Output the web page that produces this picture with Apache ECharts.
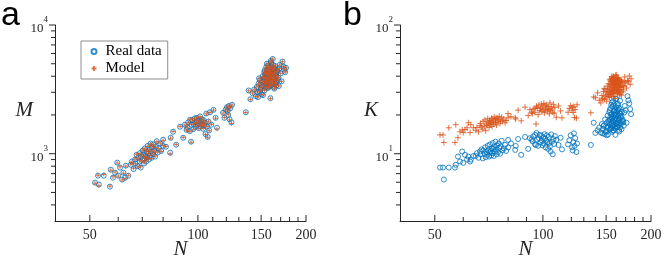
<!DOCTYPE html>
<html><head><meta charset="utf-8">
<script src="https://cdn.jsdelivr.net/npm/echarts@6/dist/echarts.min.js"></script>
<style>html,body{margin:0;padding:0;background:#fff}#c{width:664px;height:260px}</style>
</head><body><div id="c"></div>
<script>
// Network size N
const N = [
 51.7,52.7,53.0,54.7,56.9,57.2,58.8,59.6,58.0,61.5,60.0,62.0,60.7,63.0,62.7,64.0,
 65.0,65.5,66.2,66.8,67.0,67.5,68.0,68.2,68.8,69.0,69.3,69.6,70.0,70.2,70.5,70.8,71.0,71.2,71.5,71.8,
 72.0,72.2,72.5,72.7,73.0,73.2,73.5,73.8,74.0,74.3,74.6,75.0,75.3,75.6,76.0,76.3,76.8,77.2,77.8,78.5,79.0,80.0,
 80.0,83.7,85.3,84.0,89.2,91.0,93.0,95.1,95.7,87.0,81.5,92.0,
 93.5,94.0,95.0,96.0,96.5,97.0,97.5,98.0,98.5,99.0,99.3,99.8,100.2,100.6,101.0,101.4,101.8,102.2,102.6,103.0,
 103.4,103.8,104.2,104.6,105.0,105.5,106.0,106.5,107.0,107.5,108.0,109.0,110.5,112.0,113.0,
 117.5,118.5,119.5,120.5,121.0,121.5,122.0,122.5,123.0,124.0,124.5,136.0,138.5,
 140.0,142.0,143.5,145.0,146.0,147.0,147.5,148.5,149.0,150.0,150.5,151.0,151.5,152.0,152.5,153.0,153.3,153.6,154.0,154.3,
 154.6,155.0,155.2,155.5,155.8,156.0,156.2,156.5,156.8,157.0,157.2,157.5,157.8,158.0,158.2,158.5,158.8,159.0,159.2,159.5,
 159.8,160.0,160.3,160.6,161.0,161.3,161.6,162.0,162.3,162.6,163.0,163.5,164.0,164.5,165.0,165.5,166.0,167.0,168.0,169.0,
 170.0,171.0,172.0,173.0,174.0,175.0,176.0,
 152.8,153.8,154.4,154.9,155.4,155.9,156.4,156.9,157.4,157.9,158.4,158.9,159.4,159.9,160.4,160.9,161.4,161.9,162.4,162.9,
 163.4,163.9,164.4,164.9,165.4,166.5,167.5,168.5,153.5,155.6,157.6,159.6,161.8,164.0,150.8,149.6,148.0,146.5,151.8,163.2
];
// Number of links M: real data
const M_real = [
 596,675,575,675,555,751,712,852,651,629,675,712,779,807,651,675,
 820,870,760,900,840,980,800,930,870,1010,780,950,890,1060,990,840,920,1100,960,870,
 1030,940,1150,1000,900,1080,960,1200,1040,930,1120,990,1180,1060,950,1130,1250,1020,1100,1200,1050,1150,
 1284,1018,1480,1330,1620,1330,1530,1835,1240,1175,1133,1680,
 1600,1750,1500,1680,1820,1550,1700,1880,1620,1760,1900,1680,1800,1580,1720,1950,1640,1780,1850,1700,
 1560,1820,1660,1740,1420,2050,1620,1350,1780,1520,2100,1680,2190,1900,1590,
 2080,1900,2200,2300,2150,2000,2350,1850,2250,1750,2400,2100,3100,
 2650,2950,3150,2800,3300,2750,3500,3050,3700,3250,2900,3600,4000,3350,3800,4300,3100,3550,4100,3900,
 3450,4700,3700,4200,3250,3950,4500,3600,4050,4850,3800,3400,4350,3750,4150,3550,4600,3900,2700,4250,
 3650,5100,4000,3450,4400,3800,5450,4100,3600,4650,3850,4300,3500,4050,3700,3400,4450,3750,3350,4900,
 4200,3650,5200,4750,4500,4300,4650,
 3650,3900,3300,4250,3550,4400,3850,3250,4150,3600,4450,3350,3950,4700,3700,4200,3500,4550,3950,3300,
 4600,3800,4250,3600,4000,4350,3900,4600,4450,5000,4700,5250,4900,4800,3400,3150,3850,3000,2850,3200
];
// Number of links M: model
const M_model = [
 590,680,565,690,560,745,720,845,660,625,670,705,790,800,640,680,
 830,860,770,910,835,990,790,925,880,1000,790,960,880,1070,980,850,930,1090,950,880,
 1040,930,1140,1010,910,1070,970,1190,1050,920,1130,1000,1170,1050,960,1120,1240,1030,1090,1210,1040,1160,
 1270,1000,1490,1320,1630,1340,1520,1850,1230,1180,1140,1670,
 1610,1740,1490,1690,1830,1540,1710,1870,1630,1750,1910,1670,1810,1570,1730,1940,1650,1770,1860,1690,
 1570,1810,1670,1730,1410,2040,1630,1340,1790,1510,2090,1690,2180,1890,1560,
 2070,1910,2190,2310,2140,2010,2340,1830,2260,1720,2390,2090,3080,
 2640,2960,3140,2790,3310,2760,3490,3060,3690,3260,2890,3610,3990,3340,3810,4290,3110,3540,4110,3890,
 3460,4690,3710,4190,3260,3940,4510,3590,4060,4840,3810,3390,4360,3740,4160,3560,4590,3910,2690,4260,
 3640,5090,4010,3440,4410,3790,5440,4110,3590,4660,3860,4290,3510,4040,3710,3390,4460,3740,3360,4890,
 4210,3640,5190,4760,4490,4310,4640,
 3660,3890,3310,4240,3560,4390,3860,3240,4160,3590,4440,3360,3940,4690,3710,4190,3510,4560,3940,3310,
 4590,3810,4240,3590,4010,4340,3910,4590,4460,4990,4690,5240,4890,4790,3410,3140,3860,3010,2860,3190
];
// K: real data
const K_real = [
 7.8,7.8,6.3,7.8,7.8,8.2,8.7,10.4,9.5,9.0,8.5,9.5,9.8,9.0,8.7,9.6,
 9.6,10.1,9.3,10.4,9.9,10.8,9.2,10.6,10.0,11.2,9.4,10.3,9.8,11.5,10.7,9.5,10.2,11.8,10.5,9.7,
 11.0,10.1,12.1,10.9,9.6,11.3,10.4,12.4,10.8,9.9,11.6,10.3,12.0,11.1,10.0,11.4,12.6,10.6,11.0,11.7,10.5,11.2,
 12.8,10.7,13.0,11.5,13.5,10.9,12.9,14.0,11.7,9.8,12.0,13.2,
 12.5,13.6,11.8,14.5,12.9,11.5,13.2,14.0,12.2,13.8,12.7,11.6,13.4,12.0,14.2,13.1,11.2,12.6,13.9,12.3,
 10.9,13.5,12.1,11.4,10.4,14.1,12.4,9.9,13.0,11.9,13.7,12.8,11.7,13.3,10.8,
 11.8,12.7,13.9,11.2,10.6,12.3,14.4,11.5,13.2,10.3,12.0,11.7,17.4,
 14.5,15.2,16.0,14.6,17.0,15.6,16.4,14.2,18.5,15.0,13.9,17.6,19.8,16.2,18.0,21.0,15.4,16.9,19.2,22.5,
 15.8,24.0,17.3,20.4,14.8,18.8,23.2,16.6,19.5,25.5,17.8,15.2,21.6,18.2,20.0,16.1,22.0,19.0,14.0,20.8,
 17.1,26.5,18.6,16.3,21.4,17.5,24.5,19.6,16.8,22.8,18.3,20.6,16.0,19.3,17.7,15.5,21.2,18.0,16.5,23.5,
 21.8,17.4,28.0,26.0,24.6,22.2,20.3,
 17.2,18.4,15.6,20.2,16.4,19.1,17.9,15.1,21.2,16.7,19.9,15.7,18.1,23.0,17.0,20.1,16.2,21.9,18.9,15.3,
 22.3,17.3,20.5,16.9,19.7,18.5,17.6,20.9,21.8,25.0,24.2,26.8,23.8,25.8,15.9,14.7,16.6,14.4,14.1,14.9
];
// K: model
const K_model = [
 14.0,14.0,12.2,15.9,12.2,16.8,14.8,15.3,13.3,15.9,14.6,17.4,15.4,16.8,14.6,15.9,
 15.2,16.0,14.8,16.5,17.2,16.1,15.5,17.8,16.4,18.3,15.1,17.0,16.6,18.7,17.4,16.0,17.9,18.1,16.9,17.3,
 18.9,16.3,18.5,17.6,17.0,19.3,18.2,17.5,18.8,16.7,19.0,17.7,18.4,19.5,17.2,18.0,19.2,17.9,18.6,17.4,18.1,19.0,
 20.5,19.0,21.8,18.6,23.0,19.8,21.0,22.5,17.0,18.0,19.4,22.0,
 20.5,22.2,21.0,23.4,22.8,20.1,23.9,21.6,22.4,24.3,21.2,23.0,22.0,24.6,20.8,23.6,21.9,24.0,22.6,21.4,
 23.3,22.1,20.4,24.8,21.7,23.1,22.3,21.0,24.2,20.6,22.9,19.2,23.5,21.5,19.0,
 21.0,22.5,23.6,21.8,22.9,20.9,23.3,19.1,22.0,18.9,24.0,20.8,27.6,
 27.2,29.7,26.0,24.8,28.3,27.0,30.5,26.4,32.0,29.0,25.6,33.5,31.2,28.7,35.0,30.3,27.4,33.0,36.8,29.5,
 31.7,38.0,28.1,34.2,30.8,37.5,32.6,29.2,35.6,40.0,31.0,27.8,36.2,33.8,30.0,34.8,38.6,32.2,26.8,36.0,
 29.8,41.0,34.5,31.5,37.2,33.2,39.0,35.2,30.6,37.8,32.8,35.8,29.0,34.0,31.6,28.5,36.4,30.2,33.3,39.5,
 35.4,32.4,37.0,36.5,40.2,34.6,38.2,
 31.8,34.6,28.9,36.4,30.4,38.8,33.6,29.6,35.0,32.4,37.4,30.9,34.2,36.9,32.0,38.3,29.4,35.5,33.0,31.1,
 36.7,30.1,34.9,32.7,37.0,33.9,31.3,35.9,37.9,39.8,39.2,40.6,38.9,37.6,30.0,28.0,31.9,26.6,27.7,28.8
];
// Axis ranges and ticks
const xRange = [40, 200];
const yRangeA = [300, 10000];
const yRangeB = [3, 100];
const xTickLabels = [50, 100, 150, 200];
const xMinorTicks = [60, 70, 80, 90, 110, 120, 130, 140, 160, 170, 180, 190];
const yTicksA = [1000, 10000];
const yMinorA = [400, 500, 600, 700, 800, 900, 2000, 3000, 4000, 5000, 6000, 7000, 8000, 9000];
const yTicksB = [10, 100];
const yMinorB = [4, 5, 6, 7, 8, 9, 20, 30, 40, 50, 60, 70, 80, 90];

const AX = '#262626';
const SERIF = 'Liberation Serif';
const PLUS = 'path://M5,0L5,10M0,5L10,5';

function xAxis(g, name) {
  return {type:'log', logBase:10, gridIndex:g, min:xRange[0], max:xRange[1], position:'bottom',
     axisLine:{show:true, onZero:false, lineStyle:{color:AX, width:1}},
     axisTick:{show:false}, minorTick:{show:false},
     axisLabel:{show:true, customValues:xTickLabels, margin:7, color:AX, fontFamily:SERIF, fontSize:14,
                formatter: v => String(Math.round(v))},
     splitLine:{show:false}, minorSplitLine:{show:false},
     name:name, nameLocation:'middle', nameGap:18, nameMoveOverlap:false,
     nameTextStyle:{fontFamily:SERIF, fontStyle:'italic', fontSize:21, color:AX}};
}
function yAxis(g, name, rng, major) {
  return {type:'log', logBase:10, gridIndex:g, min:rng[0], max:rng[1], position:'left',
     axisLine:{show:true, onZero:false, lineStyle:{color:AX, width:1}},
     axisTick:{show:false}, minorTick:{show:false},
     axisLabel:{show:true, customValues:major, margin:7,
       formatter: v => '{b|10}{s|' + Math.round(Math.log10(v)) + '}',
       rich:{ b:{fontFamily:SERIF, fontSize:13, color:AX, lineHeight:20, verticalAlign:'bottom'},
              s:{fontFamily:SERIF, fontSize:9, color:AX, lineHeight:8, verticalAlign:'top'} }},
     splitLine:{show:false}, minorSplitLine:{show:false},
     name:name, nameLocation:'middle', nameGap:22, nameRotate:0, nameMoveOverlap:false,
     nameTextStyle:{fontFamily:SERIF, fontStyle:'italic', fontSize:21, color:AX,
                    verticalAlign:'bottom', lineHeight:26}};
}
// tick marks drawn through the axes' own scales
function tickSeries(g, yRng, xMaj, xMin, yMaj, yMin) {
  const data = [];
  xMaj.forEach(v => data.push([v, yRng[0], 0, 6]));
  xMin.forEach(v => data.push([v, yRng[0], 0, 4]));
  yMaj.forEach(v => data.push([xRange[0], v, 1, 6]));
  yMin.forEach(v => data.push([xRange[0], v, 1, 4]));
  return {type:'custom', xAxisIndex:g, yAxisIndex:g, silent:true, clip:false, z:5, data,
    renderItem:(params, api) => {
      const p = api.coord([api.value(0), api.value(1)]);
      const len = api.value(3);
      const vert = api.value(2) === 0;
      return {type:'line',
        shape: vert ? {x1:p[0], y1:p[1], x2:p[0], y2:p[1]-len} : {x1:p[0], y1:p[1], x2:p[0]-len, y2:p[1]},
        style:{stroke:AX, lineWidth:1}};
    }};
}
function circ(name, g, data, size) {
  return {type:'scatter', name, xAxisIndex:g, yAxisIndex:g, data, symbol:'circle', symbolSize:size,
    itemStyle:{color:'rgba(255,255,255,0)', borderColor:'#0072BD', borderWidth:1}, silent:true};
}
function plus(name, g, data, size) {
  return {type:'scatter', name, xAxisIndex:g, yAxisIndex:g, data, symbol:PLUS, symbolSize:size,
    itemStyle:{color:'none', borderColor:'#D95319', borderWidth:1}, silent:true};
}

const chart = echarts.init(document.getElementById('c'), null, {renderer:'canvas'});
chart.setOption({
  animation:false,
  backgroundColor:'#fff',
  grid:[
    {left:55, top:25, width:251, height:196, outerBoundsMode:'none'},
    {left:400, top:25, width:251, height:196, outerBoundsMode:'none'}
  ],
  xAxis:[xAxis(0,'N'), xAxis(1,'N')],
  yAxis:[yAxis(0,'M',yRangeA,yTicksA), yAxis(1,'K',yRangeB,yTicksB)],
  title:[
    {text:'a', left:1, top:-1, padding:0, textStyle:{fontFamily:'Liberation Sans', fontSize:34, fontWeight:'normal', color:'#000'}},
    {text:'b', left:343, top:-1, padding:0, textStyle:{fontFamily:'Liberation Sans', fontSize:34, fontWeight:'normal', color:'#000'}}
  ],
  legend:{data:['Real data','Model'], orient:'vertical', left:81, top:41, padding:[3,6,3,8],
    itemGap:2, itemWidth:5, itemHeight:5, selectedMode:false,
    borderColor:'#8c8c8c', borderWidth:1, backgroundColor:'#fff',
    textStyle:{fontFamily:SERIF, fontSize:15, color:'#000', padding:[0,0,0,4]}},
  series:[
    tickSeries(0, yRangeA, xTickLabels, xMinorTicks, yTicksA, yMinorA),
    tickSeries(1, yRangeB, xTickLabels, xMinorTicks, yTicksB, yMinorB),
    circ('Real data',0,N.map((n,i)=>[n,M_real[i]]),5),
    plus('Model',0,N.map((n,i)=>[n,M_model[i]]),4),
    circ('Real data',1,N.map((n,i)=>[n,K_real[i]]),5),
    plus('Model',1,N.map((n,i)=>[n,K_model[i]]),6)
  ]
});
</script></body></html>
